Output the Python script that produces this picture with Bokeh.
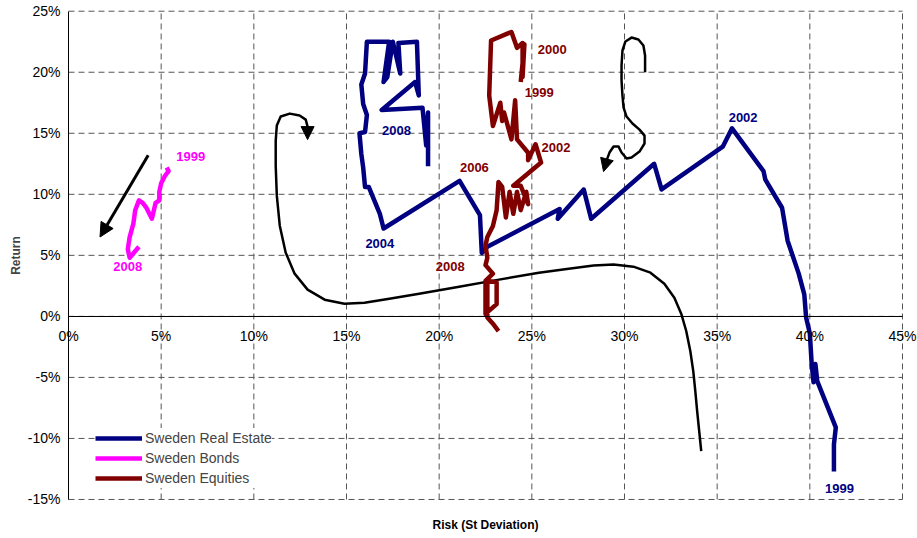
from bokeh.plotting import figure
from bokeh.models import (FixedTicker, PrintfTickFormatter, Arrow, NormalHead,
                          Legend, LegendItem, ColumnDataSource, Range1d, LabelSet, Label)
from bokeh.core.properties import value
from bokeh.embed import file_html
from bokeh.resources import INLINE

FONT = "Liberation Sans"

# ---- axes ----
x_ticks = [0, 5, 10, 15, 20, 25, 30, 35, 40, 45]
y_ticks = [-15, -10, -5, 0, 5, 10, 15, 20, 25]

# ---- series (risk %, return %) ----
re_risk = [41.3, 41.3, 41.4, 40.4, 40.3, 40.2, 40.1, 40.0, 39.8, 39.7, 39.4, 38.8, 38.5,
           37.6, 37.5, 37.4, 35.8, 35.3, 32.0, 31.6, 28.2, 27.8, 26.4, 26.5, 22.6, 22.3,
           22.2, 21.1, 17.0, 16.8, 16.2, 16.0, 15.9, 15.8, 15.7, 16.0, 16.1, 15.9, 15.8,
           16.0, 16.1, 17.3, 17.0, 17.2, 17.5, 17.9, 17.8, 18.8, 18.9, 18.7, 16.9, 19.1,
           19.3, 19.4, 19.4]
re_ret = [-12.7, -10.5, -9.1, -5.3, -3.9, -5.4, -3.9, -1.4, -0.1, 1.8, 3.5, 6.2, 8.9,
          11.2, 11.9, 12.1, 15.4, 13.9, 10.4, 12.5, 8.0, 10.4, 8.0, 8.8, 5.7, 5.2,
          8.3, 11.1, 7.2, 8.4, 10.6, 10.6, 12.2, 13.3, 15.0, 15.1, 16.5, 17.4, 19.0,
          19.9, 22.5, 22.5, 19.2, 19.6, 22.5, 19.9, 22.4, 22.5, 18.1, 19.2, 16.9, 17.1,
          14.0, 16.7, 12.3]

bd_risk = [5.3, 5.4, 5.2, 5.0, 4.9, 4.9, 4.7, 4.5, 4.2, 4.0, 3.8, 3.6, 3.5, 3.3, 3.2, 3.3, 3.8]
bd_ret = [12.2, 11.9, 11.5, 10.9, 10.2, 9.5, 9.3, 8.0, 8.9, 9.3, 9.5, 8.7, 7.6, 6.5, 5.5, 4.8, 5.7]

eq_risk = [24.4, 24.6, 24.5, 24.5, 24.2, 23.9, 22.8, 22.7, 22.9, 23.3, 23.4, 23.5, 23.7,
           23.9, 24.1, 24.2, 24.8, 24.8, 25.2, 25.5, 24.0, 24.4, 24.8, 24.7, 24.4, 24.2,
           24.0, 23.8, 23.6, 23.4, 23.2, 23.1, 22.9, 22.6, 22.5, 22.6, 22.5, 22.9, 22.5,
           22.5, 23.1, 23.1, 22.6, 22.6, 22.9, 23.2]
eq_ret = [19.2, 22.3, 19.6, 22.4, 22.0, 23.3, 22.6, 18.1, 15.6, 17.5, 16.0, 16.7, 15.6,
          14.5, 17.7, 14.5, 13.4, 12.8, 14.1, 12.6, 10.7, 10.7, 9.2, 10.2, 8.7, 10.2,
          8.4, 10.2, 8.1, 10.6, 11.0, 8.7, 7.4, 6.5, 5.8, 4.8, 4.2, 3.5, 2.9,
          0.2, 1.0, 2.8, 2.9, -0.1, -0.6, -1.2]

# ---- year labels ----
re_lab_x = [17.7, 16.8, 36.4, 41.6]
re_lab_y = [15.2, 6.0, 16.3, -14.1]
re_lab_t = ["2008", "2004", "2002", "1999"]
eq_lab_x = [26.1, 25.4, 26.3, 21.9, 20.6]
eq_lab_y = [21.9, 18.3, 13.8, 12.2, 4.1]
eq_lab_t = ["2000", "1999", "2002", "2006", "2008"]
bd_lab_x = [6.6, 3.2]
bd_lab_y = [13.1, 4.1]
bd_lab_t = ["1999", "2008"]

# ---- hand-drawn arrows (risk %, return %) ----
arr1_x = [4.3, 1.7]
arr1_y = [13.2, 6.5]
arr2_x = [34.14, 34.03, 33.92, 33.82, 33.71, 33.55, 33.33, 33.06, 32.69, 32.15, 31.40, 30.48,
          29.41, 28.33, 26.99, 25.38, 23.23, 21.08, 18.92, 17.31, 15.97, 14.89, 13.82, 12.90,
          12.20, 11.72, 11.40, 11.24, 11.18, 11.18, 11.24, 11.45, 11.94, 12.47, 12.80, 12.90, 12.90]
arr2_y = [-11.04, -9.40, -7.76, -6.12, -4.48, -2.84, -1.20, 0.22, 1.53, 2.68, 3.58, 4.07,
          4.24, 4.16, 3.91, 3.58, 3.01, 2.43, 1.86, 1.45, 1.12, 1.04, 1.37, 2.19,
          3.50, 5.22, 7.43, 9.89, 12.35, 14.40, 15.63, 16.37, 16.61, 16.45, 16.12, 15.55, 14.48]
arr3_x = [31.11, 31.11, 31.02, 30.75, 30.38, 30.05, 29.89, 29.84, 29.84, 29.89, 29.95, 30.11,
          30.43, 30.81, 31.08, 31.08, 30.81, 30.38, 30.11, 29.84, 29.68, 29.41, 29.19, 29.03, 28.87]
arr3_y = [20.0, 21.37, 22.19, 22.68, 22.84, 22.52, 21.78, 20.55, 19.32, 18.09, 17.11, 16.37,
          15.80, 15.30, 14.81, 14.16, 13.50, 13.01, 12.93, 13.42, 13.91, 13.91, 13.42, 12.76, 11.86]

NAVY = "#000080"
PINK = "#FF00FF"
MAROON = "#800000"

XMIN, XMAX = x_ticks[0], x_ticks[-1]
YMIN, YMAX = y_ticks[0], y_ticks[-1]

# frame covers the whole canvas (axes sit at fixed locations inside it)
p = figure(width=917, height=538, x_range=Range1d(-3.669, 45.809), y_range=Range1d(-18.197, 25.877),
           output_backend="svg", toolbar_location=None,
           min_border_left=0, min_border_right=0, min_border_top=0, min_border_bottom=0)
p.outline_line_color = None
p.background_fill_color = "white"
p.border_fill_color = "white"
p.xgrid.grid_line_color = None
p.ygrid.grid_line_color = None

# dashed grid, limited to the axis extents
p.segment(x0=x_ticks, y0=[YMIN] * len(x_ticks), x1=x_ticks, y1=[YMAX] * len(x_ticks),
          line_color="#555555", line_dash="6 4", line_width=1)
p.segment(x0=[XMIN] * len(y_ticks), y0=y_ticks, x1=[XMAX] * len(y_ticks), y1=y_ticks,
          line_color="#555555", line_dash="6 4", line_width=1)

# y axis at x = 0
p.yaxis.fixed_location = 0
p.yaxis.bounds = (YMIN, YMAX)
p.yaxis.ticker = FixedTicker(ticks=y_ticks)
p.yaxis.formatter = PrintfTickFormatter(format="%d%%")
p.yaxis.axis_label = "Return"
p.yaxis.axis_label_text_font = FONT
p.yaxis.axis_label_text_font_style = "bold"
p.yaxis.axis_label_text_font_size = "12px"
p.yaxis.axis_label_standoff = 2
p.yaxis.major_label_text_font = FONT
p.yaxis.major_label_text_font_size = "14px"
p.yaxis.major_label_text_color = "black"
p.yaxis.major_label_standoff = 8
p.yaxis.major_tick_out = 0
p.yaxis.major_tick_in = 0
p.yaxis.major_tick_line_color = None
p.yaxis.minor_tick_line_color = None
p.yaxis.axis_line_color = "black"

# x axis at y = 0
p.xaxis.fixed_location = 0
p.xaxis.bounds = (XMIN, XMAX)
p.xaxis.ticker = FixedTicker(ticks=x_ticks)
p.xaxis.formatter = PrintfTickFormatter(format="%d%%")
p.xaxis.major_label_text_font = FONT
p.xaxis.major_label_text_font_size = "14px"
p.xaxis.major_label_text_color = "black"
p.xaxis.major_label_standoff = 12
p.xaxis.major_tick_out = 0
p.xaxis.major_tick_in = 0
p.xaxis.major_tick_line_color = None
p.xaxis.minor_tick_line_color = None
p.xaxis.axis_line_color = "black"

p.add_layout(Label(x=(XMIN + XMAX) / 2, y=YMIN, y_offset=-26, text="Risk (St Deviation)",
                   text_align="center", text_baseline="middle", text_font=FONT,
                   text_font_style="bold", text_font_size="12px", text_color="black"))

# arrows
p.line(arr2_x[:-1], arr2_y[:-1], line_color="black", line_width=2.5, line_join="round")
p.add_layout(Arrow(end=NormalHead(size=13, fill_color="black", line_color="black"),
                   x_start=arr2_x[-2], y_start=arr2_y[-2], x_end=arr2_x[-1], y_end=arr2_y[-1],
                   line_color="black", line_width=2.5))
p.line(arr3_x[:-1], arr3_y[:-1], line_color="black", line_width=2.5, line_join="round")
p.add_layout(Arrow(end=NormalHead(size=13, fill_color="black", line_color="black"),
                   x_start=arr3_x[-2], y_start=arr3_y[-2], x_end=arr3_x[-1], y_end=arr3_y[-1],
                   line_color="black", line_width=2.5))
p.add_layout(Arrow(end=NormalHead(size=14, fill_color="black", line_color="black"),
                   x_start=arr1_x[0], y_start=arr1_y[0], x_end=arr1_x[1], y_end=arr1_y[1],
                   line_color="black", line_width=3))

# series
r_re = p.line(re_risk, re_ret, line_color=NAVY, line_width=4.5, line_join="round")
r_bd = p.line(bd_risk, bd_ret, line_color=PINK, line_width=4.5, line_join="round")
r_eq = p.line(eq_risk, eq_ret, line_color=MAROON, line_width=4.5, line_join="round")

for xs, ys, ts, col in ((re_lab_x, re_lab_y, re_lab_t, NAVY),
                        (eq_lab_x, eq_lab_y, eq_lab_t, MAROON),
                        (bd_lab_x, bd_lab_y, bd_lab_t, PINK)):
    src = ColumnDataSource(dict(x=xs, y=ys, t=ts))
    p.add_layout(LabelSet(x="x", y="y", text="t", source=src, text_align="center",
                          text_baseline="middle", text_font=value(FONT),
                          text_font_style="bold", text_font_size="13px", text_color=col))

legend = Legend(items=[LegendItem(label="Sweden Real Estate", renderers=[r_re]),
                       LegendItem(label="Sweden Bonds", renderers=[r_bd]),
                       LegendItem(label="Sweden Equities", renderers=[r_eq])],
                location=(95, 50), padding=3, margin=0, spacing=0,
                glyph_width=47, glyph_height=20, label_height=20, label_standoff=3,
                label_text_font=FONT, label_text_font_size="14px",
                background_fill_color="white", background_fill_alpha=1.0,
                border_line_color=None)
p.add_layout(legend)

open("out.html", "w").write(file_html(p, INLINE))
